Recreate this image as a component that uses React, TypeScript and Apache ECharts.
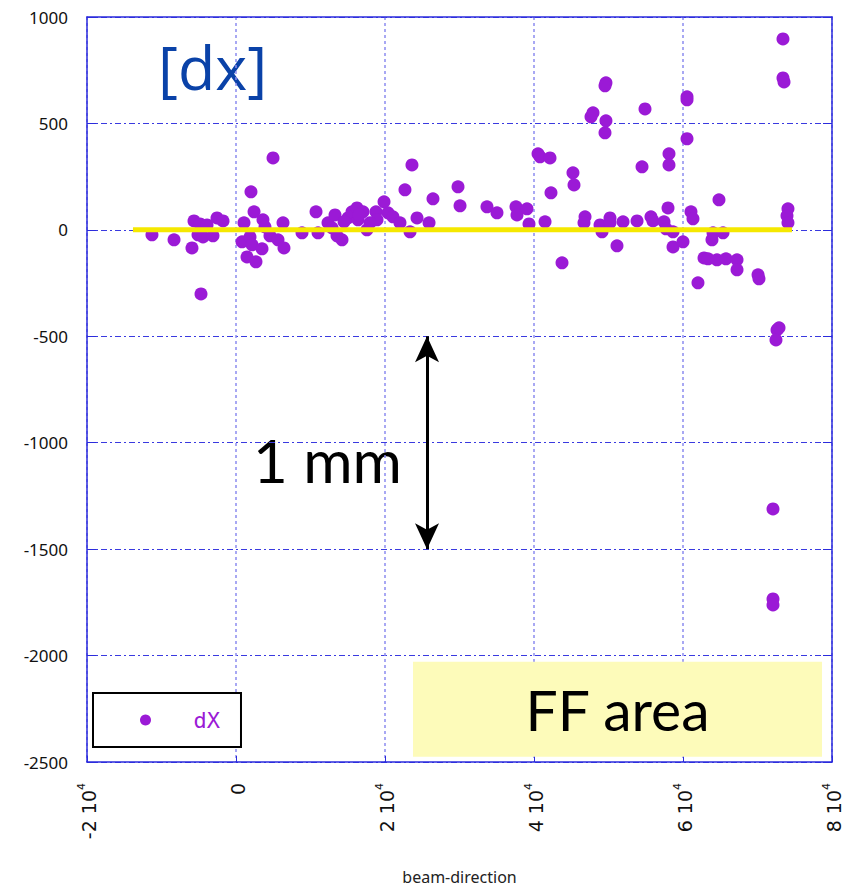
import React, { useEffect, useRef } from "react";
import * as echarts from "echarts";

// beam-direction position (x) and dX value
const beamPositions: number[] = [
  -11280, -8320, -5910, -5640, -4830, -3890, -5100, -4430, -3090, -2550, -1740, -4700,
  1070, 2010, 4970, 2420, 3620, 3890, 810, 1880, 2150, 3490, 1480, 2680, 4560, 5640, 6440, 6310,
  8860, 10740, 11010, 12350, 13290, 13560, 14230, 15030, 15570, 16240, 17050, 16380, 17580, 18790,
  19870, 20400, 21070, 22010, 23360, 22680, 23620, 24300, 18930, 17990, 14500, 16500, 12900,
  25910, 26440, 29800, 30070, 33690, 35030, 37580, 37720, 39060, 39330, 40540, 40810, 42150, 42280,
  41480, 43760, 45230, 45370, 46850, 46710, 47650, 47920, 49660, 49530, 49660, 49530, 48860, 49130,
  50200, 50200, 51140, 51950, 53830, 54900, 54500, 55700, 55970, 57450, 57720, 58660, 57990, 58120,
  58120, 58660, 60000, 60540, 60540, 60540, 61070, 61340, 62010, 62820, 63360, 63890, 64030, 64560,
  64830, 65370, 65770, 67250, 67250, 70070, 70200, 72620, 72480, 72890, 72080, 72080, 72080, 73420,
  73420, 73560, 74090, 73960, 74090,
];
const dxValues: number[] = [
  -23, -47, -85, 42, 28, 23, -23, -33, -28, 56, 42, -301,
  33, 179, 338, 85, 47, 14, -56, -33, -70, -89, -127, -150, -28, -47, -85, 33,
  -14, 85, -14, 33, 70, -28, -47, 56, 85, 103, 85, 47, 0, 85,
  132, 80, 61, 33, -9, 188, 305, 56, 47, 33, 38, 70, 9,
  33, 146, 202, 113, 108, 80, 108, 70, 99, 28, 357, 343, 338, 174,
  38, -155, 268, 211, 61, 33, 531, 550, 691, 677, 512, 456, 23, -9,
  56, 33, -75, 38, 42, 568, 296, 61, 42, 38, 5, -9, 103, 357,
  305, -80, -56, 625, 611, 428, 85, 52, -249, -132, -136, -47, -14, -141,
  141, -14, -136, -141, -188, -211, -230, -470, -517, -460, -1311, -1734, -1762, 897,
  714, 695, 99, 66, 33,
];

const xTicks: number[] = [-20000, 0, 20000, 40000, 60000, 80000];
const yTicks: number[] = [1000, 500, 0, -500, -1000, -1500, -2000, -2500];

const zeroLineX: number[] = [-13830, 74630];
const arrowX = 25640;
const arrowY: number[] = [-500, -1500];
const ffAreaX: number[] = [23760, 78660];
const ffAreaY: number[] = [-2029, -2475];

export default function App() {
  const ref = useRef<HTMLDivElement>(null);
  useEffect(() => {
    if (!ref.current) return;
    const chart = echarts.init(ref.current, undefined, { renderer: "svg" });
    const points = beamPositions.map((x, i) => [x, dxValues[i]]);
    const axisBlue = "#2b2bdc";
    const fmtX = (v: number) => {
      if (v === 0) return "{b|0}";
      return `{b|${v / 10000} 10}{sup|4}`;
    };
    chart.setOption({
      animation: false,
      backgroundColor: "#ffffff",
      grid: { left: 87, right: 12, top: 17, bottom: 126, outerBoundsMode: "none", containLabel: false },
      legend: {
        data: ["dX"],
        left: 93,
        top: 693,
        orient: "horizontal",
        borderColor: "#000000",
        borderWidth: 2,
        backgroundColor: "#ffffff",
        padding: [16, 21, 16, 47],
        itemWidth: 86,
        itemHeight: 11,
        icon: "circle",
        textStyle: { color: "#9b1ad6", fontSize: 22, fontFamily: "DejaVu Sans Mono" },
      },
      xAxis: [
        {
          type: "value",
          min: -20000,
          max: 80000,
          interval: 20000,
          name: "beam-direction",
          nameLocation: "middle",
          nameGap: 107,
          nameMoveOverlap: false,
          nameTextStyle: { color: "#222222", fontSize: 16, fontFamily: "Noto Sans" },
          axisLine: { show: true, onZero: false, lineStyle: { color: axisBlue, width: 1.5 } },
          axisTick: { show: true, inside: true, length: 6, lineStyle: { color: axisBlue } },
          axisLabel: {
            rotate: 90,
            margin: 21,
            color: "#111111",
            formatter: fmtX,
            customValues: xTicks,
            rich: {
              b: { fontSize: 19, fontFamily: "DejaVu Sans", color: "#111111", lineHeight: 22, verticalAlign: "bottom" },
              sup: { fontSize: 11, fontFamily: "DejaVu Sans", color: "#111111", lineHeight: 22, verticalAlign: "top" },
            },
          },
          splitLine: { show: true, lineStyle: { color: "#8c8cf0", type: [3, 3], width: 1.5 } },
        },
        {
          type: "value",
          position: "top",
          min: -20000,
          max: 80000,
          interval: 20000,
          axisLine: { show: true, onZero: false, lineStyle: { color: axisBlue, width: 1.5 } },
          axisTick: { show: false },
          axisLabel: { show: false },
          splitLine: { show: false },
        },
      ],
      yAxis: [
        {
          type: "value",
          min: -2500,
          max: 1000,
          interval: 500,
          axisLine: { show: true, onZero: false, lineStyle: { color: axisBlue, width: 1.5 } },
          axisTick: { show: true, inside: true, length: 9, lineStyle: { color: axisBlue } },
          axisLabel: {
            margin: 19,
            color: "#111111",
            fontSize: 17,
            fontFamily: "Noto Sans",
            customValues: yTicks,
            formatter: (v: number) => String(v),
          },
          splitLine: { show: true, lineStyle: { color: "#3a3ae0", type: [6, 3, 2, 3], width: 1 } },
        },
        {
          type: "value",
          position: "right",
          min: -2500,
          max: 1000,
          interval: 500,
          axisLine: { show: true, onZero: false, lineStyle: { color: axisBlue, width: 1.5 } },
          axisTick: { show: true, inside: true, length: 9, lineStyle: { color: axisBlue } },
          axisLabel: { show: false },
          splitLine: { show: false },
        },
      ],
      series: [
        {
          name: "FF",
          type: "line",
          data: [],
          silent: true,
          markArea: {
            silent: true,
            itemStyle: { color: "#fdfbba" },
            label: {
              show: true,
              position: "inside",
              color: "#000000",
              fontSize: 57,
              fontFamily: "Lato",
            },
            data: [
              [
                { name: "FF area", coord: [ffAreaX[0], ffAreaY[0]] },
                { coord: [ffAreaX[1], ffAreaY[1]] },
              ],
            ],
          },
        },
        {
          name: "dX",
          type: "scatter",
          data: points,
          symbol: "circle",
          symbolSize: 13,
          itemStyle: { color: "#9b1ad6", opacity: 1 },
          z: 3,
        },
        {
          name: "zero",
          type: "line",
          data: zeroLineX.map((x) => [x, 0]),
          symbol: "none",
          lineStyle: { color: "#f5e800", width: 5 },
          silent: true,
          z: 4,
        },
        {
          name: "arrow",
          type: "line",
          data: [],
          silent: true,
          markLine: {
            silent: true,
            symbol: ["arrow", "arrow"],
            symbolSize: [18, 26],
            label: { show: false },
            lineStyle: { color: "#000000", width: 3, type: "solid" },
            data: [
              [
                { coord: [arrowX, arrowY[0]] },
                { coord: [arrowX, arrowY[1]] },
              ],
            ],
          },
        },
      ],
      graphic: [
        {
          type: "text",
          left: 158,
          top: 36,
          style: {
            text: "[dx]",
            fill: "#0a42a8",
            fontSize: 61,
            fontFamily: "Open Sans",
          },
        },
        {
          type: "text",
          left: 253,
          top: 430,
          style: {
            text: "1 mm",
            fill: "#000000",
            fontSize: 60,
            fontFamily: "Lato",
          },
        },
      ],
    });
    return () => chart.dispose();
  }, []);
  return (
    <div
      ref={ref}
      style={{ position: "fixed", left: 0, top: 0, width: 844, height: 888 }}
    />
  );
}
